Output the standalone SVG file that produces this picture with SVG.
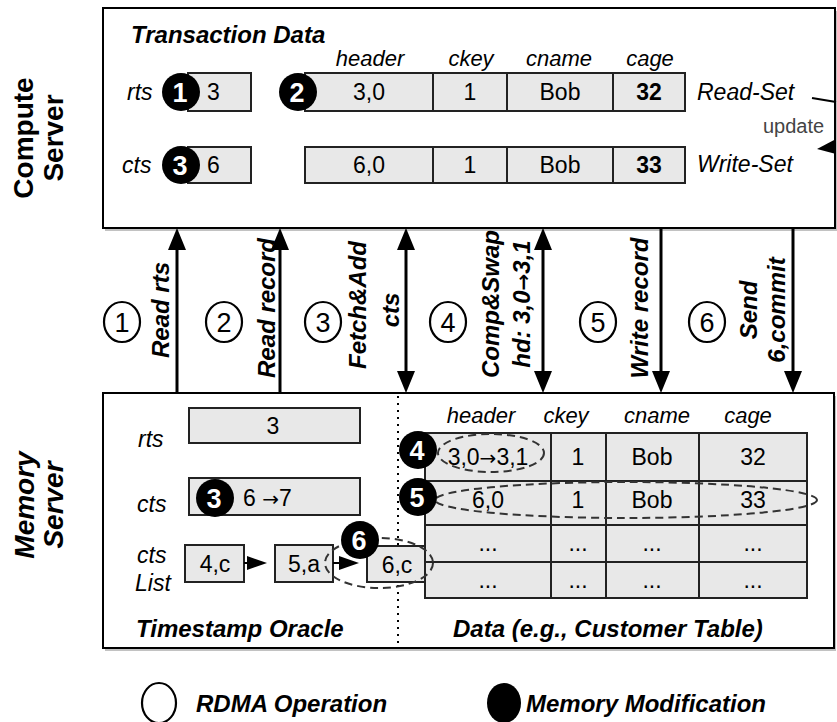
<svg xmlns="http://www.w3.org/2000/svg" width="837" height="722" viewBox="0 0 837 722">
<style>
text{font-family:"Liberation Sans",Arial,Helvetica,sans-serif;fill:#000}
.box{fill:#fff;stroke:#000;stroke-width:2}
.shadow{fill:#9a9a9a;opacity:.6}
.cell{fill:#e8e8e8;stroke:#222;stroke-width:2}
.line{stroke:#222;stroke-width:2;fill:none}
.v{font-size:23px}
.c{text-anchor:middle}
.i{font-style:italic}
.b{font-weight:bold}
.ar{font-family:"DejaVu Sans",sans-serif;font-size:20px}
.hd{font-size:22px;font-style:italic;text-anchor:middle}
.ttl{font-size:24px;font-style:italic;font-weight:bold}
.op{font-size:24px;font-style:italic;font-weight:bold;text-anchor:middle}
.srv{font-size:28px;font-weight:bold;text-anchor:middle}
.dot{fill:#000}
.wn{fill:#fff;font-size:27px;font-weight:bold;text-anchor:middle}
.oc{fill:#fff;stroke:#000;stroke-width:2.2}
.on{font-size:27px;text-anchor:middle}
.conn{stroke:#000;stroke-width:3;fill:none}
.thin{stroke:#000;stroke-width:2;fill:none}
.dash{fill:none;stroke:#333;stroke-width:2;stroke-dasharray:8 5}
.dotted{stroke:#000;stroke-width:2;stroke-dasharray:2 5}
</style>
<defs>
<marker id="ah" markerUnits="userSpaceOnUse" markerWidth="22" markerHeight="18" refX="12" refY="9" orient="auto-start-reverse" viewBox="0 0 22 18">
<path d="M0,0 L22,9 L0,18 Z" fill="#000"/>
</marker>
<marker id="ahs" markerUnits="userSpaceOnUse" markerWidth="20" markerHeight="14" refX="14" refY="7" orient="auto" viewBox="0 0 20 14">
<path d="M0,0 L20,7 L0,14 Z" fill="#000"/>
</marker>
</defs>

<!-- server labels -->
<g id="label-compute">
<text class="srv" transform="translate(33,138) rotate(-90)">Compute</text>
<text class="srv" transform="translate(63,138) rotate(-90)">Server</text>
</g>
<g id="label-memory">
<text class="srv i" transform="translate(34,505) rotate(-90)">Memory</text>
<text class="srv i" transform="translate(63,505) rotate(-90)">Server</text>
</g>

<!-- compute server -->
<g id="compute-server">
<rect class="shadow" x="105" y="11" width="732" height="220"/>
<rect class="box" x="103" y="8" width="732" height="220"/>
<text class="ttl" x="131" y="43">Transaction Data</text>
</g>

<g id="tx-rts">
<text class="v i" x="127" y="100">rts</text>
<rect class="cell" x="188" y="73" width="63" height="38"/>
<text class="v" x="207" y="100">3</text>
<circle class="dot" cx="181" cy="92" r="19"/>
<text class="wn" x="180" y="102">1</text>
</g>
<g id="tx-cts">
<text class="v i" x="122" y="173">cts</text>
<rect class="cell" x="188" y="147" width="63" height="36"/>
<text class="v" x="207" y="173">6</text>
<circle class="dot" cx="181" cy="165" r="19"/>
<text class="wn" x="180" y="175">3</text>
</g>

<g id="tx-headers">
<text class="hd" x="370" y="66">header</text>
<text class="hd" x="471" y="66">ckey</text>
<text class="hd" x="559" y="66">cname</text>
<text class="hd" x="650" y="66">cage</text>
</g>
<g id="read-set">
<rect class="cell" x="305" y="73" width="380" height="38"/>
<line class="line" x1="433" y1="73" x2="433" y2="111"/>
<line class="line" x1="507" y1="73" x2="507" y2="111"/>
<line class="line" x1="613" y1="73" x2="613" y2="111"/>
<text class="v c" x="369" y="100">3,0</text>
<text class="v c" x="470" y="100">1</text>
<text class="v c" x="560" y="100">Bob</text>
<text class="v c b" x="649" y="100">32</text>
<circle class="dot" cx="298" cy="92" r="19"/>
<text class="wn" x="297" y="102">2</text>
<text class="v i" x="697" y="100">Read-Set</text>
</g>
<g id="write-set">
<rect class="cell" x="305" y="147" width="380" height="36"/>
<line class="line" x1="433" y1="147" x2="433" y2="183"/>
<line class="line" x1="507" y1="147" x2="507" y2="183"/>
<line class="line" x1="613" y1="147" x2="613" y2="183"/>
<text class="v c" x="369" y="173">6,0</text>
<text class="v c" x="470" y="173">1</text>
<text class="v c" x="560" y="173">Bob</text>
<text class="v c b" x="649" y="173">33</text>
<text class="v i" x="697" y="172">Write-Set</text>
</g>
<g id="update">
<text x="763" y="133" style="font-size:20px;fill:#444">update</text>
</g>

<!-- memory server -->
<g id="memory-server">
<rect class="shadow" x="105" y="396" width="731" height="255"/>
<rect class="box" x="103" y="393" width="731" height="255"/>
<line class="dotted" x1="398" y1="396" x2="398" y2="646"/>
<text class="ttl" x="136" y="637">Timestamp Oracle</text>
<text class="ttl" x="453" y="637">Data (e.g., Customer Table)</text>
</g>

<g id="mem-rts">
<text class="v i" x="138" y="447">rts</text>
<rect class="cell" x="189" y="408" width="171" height="35"/>
<text class="v c" x="273" y="434">3</text>
</g>
<g id="mem-cts">
<text class="v i" x="137" y="512">cts</text>
<rect class="cell" x="189" y="478" width="171" height="37"/>
<text class="v" x="243" y="506">6 <tspan class="ar">→</tspan>7</text>
<circle class="dot" cx="215" cy="498" r="19"/>
<text class="wn" x="214" y="508">3</text>
</g>
<g id="cts-list">
<text class="v i" x="137" y="563">cts</text>
<text class="v i" x="135" y="591">List</text>
<rect class="cell" x="185" y="545" width="59" height="37"/>
<text class="v c" x="215" y="572">4,c</text>
<rect class="cell" x="275" y="545" width="58" height="37"/>
<text class="v" x="288" y="572">5,a</text>
<rect class="cell" x="367" y="546" width="58" height="36"/>
<text class="v c" x="397" y="573">6,c</text>
</g>

<g id="data-table">
<text class="hd" x="481" y="423">header</text>
<text class="hd" x="566" y="423">ckey</text>
<text class="hd" x="657" y="423">cname</text>
<text class="hd" x="748" y="423">cage</text>
<rect class="cell" x="425" y="433" width="382" height="165"/>
<line class="line" x1="425" y1="481" x2="807" y2="481"/>
<line class="line" x1="425" y1="525" x2="807" y2="525"/>
<line class="line" x1="425" y1="562" x2="807" y2="562"/>
<line class="line" x1="551" y1="433" x2="551" y2="598"/>
<line class="line" x1="606" y1="433" x2="606" y2="598"/>
<line class="line" x1="699" y1="433" x2="699" y2="598"/>
<text class="v c" x="488" y="465">3,0<tspan class="ar">→</tspan>3,1</text>
<text class="v c" x="578" y="465">1</text>
<text class="v c" x="652" y="465">Bob</text>
<text class="v c" x="753" y="465">32</text>
<text class="v c" x="488" y="508">6,0</text>
<text class="v c" x="578" y="508">1</text>
<text class="v c" x="652" y="508">Bob</text>
<text class="v c" x="753" y="508">33</text>
<text class="v c" x="488" y="551">...</text>
<text class="v c" x="578" y="551">...</text>
<text class="v c" x="652" y="551">...</text>
<text class="v c" x="753" y="551">...</text>
<text class="v c" x="488" y="588">...</text>
<text class="v c" x="578" y="588">...</text>
<text class="v c" x="652" y="588">...</text>
<text class="v c" x="753" y="588">...</text>
</g>

<g id="marks">
<ellipse class="dash" cx="491" cy="453" rx="53" ry="19"/>
<ellipse class="dash" cx="626" cy="500" rx="191" ry="18"/>
<ellipse class="dash" cx="379" cy="563" rx="54" ry="25"/>
<circle class="dot" cx="418" cy="450" r="19"/>
<text class="wn" x="417" y="460">4</text>
<circle class="dot" cx="418" cy="497" r="19"/>
<text class="wn" x="417" y="507">5</text>
<circle class="dot" cx="360" cy="540" r="19"/>
<text class="wn" x="359" y="550">6</text>
</g>

<!-- connectors -->
<g id="connectors">
<line class="conn" x1="177" y1="393" x2="177" y2="238" marker-end="url(#ah)"/>
<line class="conn" x1="280" y1="393" x2="280" y2="238" marker-end="url(#ah)"/>
<line class="conn" x1="406" y1="238" x2="406" y2="383" marker-start="url(#ah)" marker-end="url(#ah)"/>
<line class="conn" x1="543" y1="238" x2="543" y2="383" marker-start="url(#ah)" marker-end="url(#ah)"/>
<line class="conn" x1="661" y1="228" x2="661" y2="383" marker-end="url(#ah)"/>
<line class="conn" x1="793" y1="228" x2="793" y2="383" marker-end="url(#ah)"/>
<line class="thin" x1="244" y1="563" x2="261" y2="563" marker-end="url(#ahs)"/>
<line class="thin" x1="333" y1="563" x2="353" y2="563" marker-end="url(#ahs)"/>
<path class="thin" d="M812,98 L836,102"/>
<polygon points="817,149 836,139 836,154" fill="#000"/>
</g>

<g id="op-labels">
<ellipse class="oc" cx="122" cy="322" rx="18" ry="20"/>
<text class="on" x="122" y="332">1</text>
<text class="op" transform="translate(169,310) rotate(-90)">Read rts</text>
<ellipse class="oc" cx="224" cy="322" rx="18" ry="20"/>
<text class="on" x="224" y="332">2</text>
<text class="op" transform="translate(275,308) rotate(-90)">Read record</text>
<ellipse class="oc" cx="323" cy="322" rx="18" ry="20"/>
<text class="on" x="323" y="332">3</text>
<text class="op" transform="translate(366,305) rotate(-90)">Fetch&amp;Add</text>
<text class="op" transform="translate(399,310) rotate(-90)">cts</text>
<ellipse class="oc" cx="448" cy="322" rx="18" ry="20"/>
<text class="on" x="448" y="332">4</text>
<text class="op" transform="translate(499,304) rotate(-90)">Comp&amp;Swap</text>
<text class="op" transform="translate(530,304) rotate(-90)">hd: 3,0<tspan style="font-family:'DejaVu Sans',sans-serif;font-size:20px">→</tspan>3,1</text>
<ellipse class="oc" cx="598" cy="322" rx="18" ry="20"/>
<text class="on" x="598" y="332">5</text>
<text class="op" transform="translate(648,308) rotate(-90)">Write record</text>
<ellipse class="oc" cx="707" cy="322" rx="18" ry="20"/>
<text class="on" x="707" y="332">6</text>
<text class="op" transform="translate(757,310) rotate(-90)">Send</text>
<text class="op" transform="translate(785,310) rotate(-90)">6,commit</text>
</g>

<g id="legend">
<ellipse class="oc" cx="159" cy="703" rx="17" ry="20"/>
<text class="ttl" x="196" y="712">RDMA Operation</text>
<ellipse cx="504" cy="703" rx="17" ry="20" fill="#000"/>
<text class="ttl" x="526" y="712">Memory Modification</text>
</g>
</svg>
